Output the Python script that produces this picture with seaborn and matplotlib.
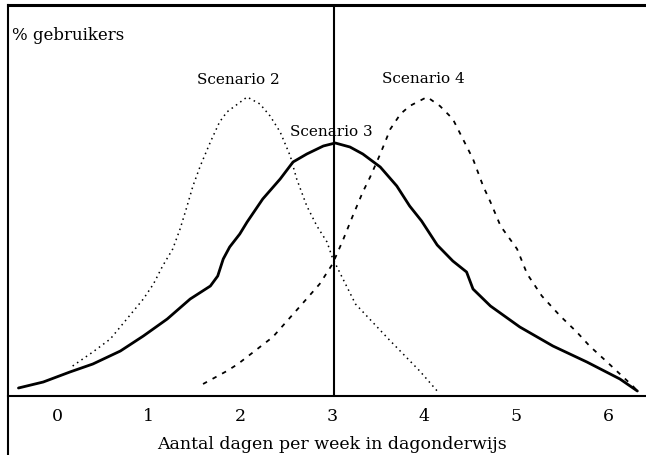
import pandas as pd
import seaborn as sns
import matplotlib.pyplot as plt

sns.set_style('white')
plt.rcParams['font.family'] = ['DejaVu Serif']
plt.rcParams['text.color'] = 'black'
plt.rcParams['xtick.color'] = 'black'

# share of users (arbitrary units) against days per week in day school
s2_x = [0.17, 0.39, 0.58, 0.76, 0.94, 1.05, 1.15, 1.26, 1.34, 1.41, 1.48, 1.56, 1.67, 1.77, 1.85, 2.07,
        2.21, 2.32, 2.43, 2.54, 2.61, 2.72, 2.83, 2.94, 3.0, 3.25, 3.62, 3.95, 4.14]
s2_y = [30, 44, 57, 77, 97, 112, 130, 147, 167, 188, 210, 230, 254, 274, 284, 299,
        292, 280, 264, 240, 217, 190, 170, 154, 138, 92, 56, 25, 5]

s3_x = [-0.42, -0.15, 0.14, 0.39, 0.69, 0.94, 1.20, 1.45, 1.67, 1.75, 1.81, 1.88, 1.99, 2.07, 2.24,
        2.43, 2.57, 2.72, 2.90, 3.03, 3.19, 3.33, 3.52, 3.70, 3.84, 3.97, 4.14, 4.31, 4.46, 4.53,
        4.72, 5.04, 5.40, 5.77, 6.13, 6.32]
s3_y = [8, 14, 24, 32, 45, 60, 77, 97, 110, 120, 137, 149, 162, 174, 197,
        217, 234, 242, 250, 253, 249, 242, 229, 210, 190, 175, 151, 135, 124, 107,
        90, 69, 50, 34, 17, 5]

s4_x = [1.59, 1.85, 1.97, 2.35, 2.64, 2.86, 3.0, 3.11, 3.22, 3.33, 3.41, 3.52, 3.63, 3.74, 3.84,
        4.03, 4.17, 4.31, 4.42, 4.53, 4.64, 4.72, 4.83, 5.01, 5.12, 5.28, 5.48, 5.66, 5.80, 5.99,
        6.13, 6.27, 6.33]
s4_y = [12, 25, 32, 59, 89, 112, 132, 155, 180, 204, 219, 242, 267, 282, 290,
        299, 290, 277, 257, 237, 210, 194, 170, 147, 122, 100, 80, 64, 50, 34,
        22, 10, 4]

ticks = [0, 1, 2, 3, 4, 5, 6]

s2 = pd.DataFrame({'dagen': s2_x, 'gebruikers': s2_y})
s3 = pd.DataFrame({'dagen': s3_x, 'gebruikers': s3_y})
s4 = pd.DataFrame({'dagen': s4_x, 'gebruikers': s4_y})

fig = plt.figure(figsize=(6.46, 4.56), dpi=100)
ax = fig.add_axes([8 / 646, 0, 638 / 646, 450 / 456])

sns.lineplot(data=s2, x='dagen', y='gebruikers', color='black', lw=1.1,
             linestyle=(0, (1, 2.5)), sort=False, ax=ax)
sns.lineplot(data=s4, x='dagen', y='gebruikers', color='black', lw=1.3,
             linestyle=(0, (2.5, 3.5)), sort=False, ax=ax)
sns.lineplot(data=s3, x='dagen', y='gebruikers', color='black', lw=2.0,
             sort=False, ax=ax)

ax.set_xlim(-0.534, 6.414)
ax.set_ylim(-59, 391)
ax.axvline(3.02, ymin=59 / 450, ymax=1, color='black', lw=1.5)

ax.spines['right'].set_visible(False)
ax.spines['bottom'].set_position(('data', 0))
for s in ['left', 'bottom']:
    ax.spines[s].set_linewidth(1.5)
ax.spines['top'].set_linewidth(2.2)
for s in ['left', 'bottom', 'top']:
    ax.spines[s].set_color('black')

ax.set_xticks(ticks)
ax.set_xticklabels([str(t) for t in ticks], fontsize=12.5)
ax.tick_params(axis='x', length=0, pad=8)
ax.set_yticks([])
ax.set_ylabel('')
ax.set_xlabel('')

ax.text(2.99, -48, 'Aantal dagen per week in dagonderwijs', fontsize=12.5,
        ha='center', va='center')
ax.text(-0.49, 361, '% gebruikers', fontsize=12, ha='left', va='center')
ax.text(1.98, 317, 'Scenario 2', fontsize=11, ha='center', va='center')
ax.text(2.99, 265, 'Scenario 3', fontsize=11, ha='center', va='center')
ax.text(3.99, 318, 'Scenario 4', fontsize=11, ha='center', va='center')

fig.savefig('out.png', dpi=100)
